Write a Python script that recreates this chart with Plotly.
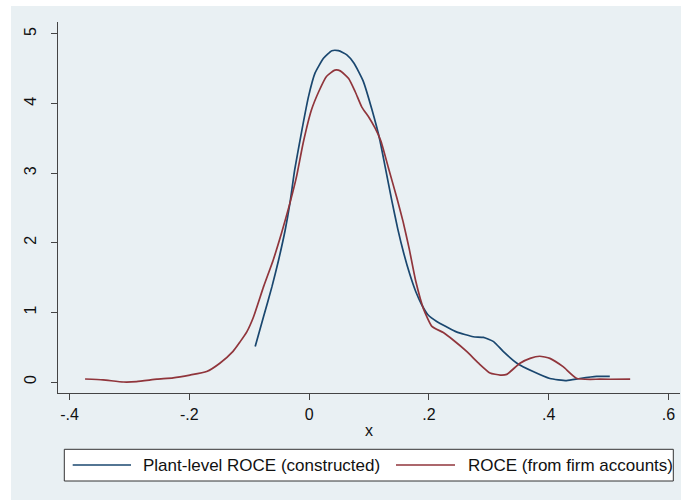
import plotly.graph_objects as go

# Kernel density estimates of ROCE, two measures
plant_x = [-0.090, -0.076, -0.062, -0.051, -0.040, -0.032, -0.024, -0.012, -0.001, 0.010,
           0.024, 0.038, 0.049, 0.063, 0.075, 0.090, 0.105, 0.118, 0.127, 0.138,
           0.148, 0.158, 0.168, 0.178, 0.188, 0.198, 0.213, 0.230, 0.246, 0.274,
           0.291, 0.308, 0.324, 0.347, 0.374, 0.402, 0.430, 0.452, 0.480, 0.502]
plant_y = [0.51, 0.94, 1.37, 1.75, 2.18, 2.57, 3.05, 3.62, 4.10, 4.44,
           4.65, 4.76, 4.76, 4.70, 4.58, 4.33, 3.91, 3.48, 3.09, 2.61,
           2.20, 1.85, 1.55, 1.30, 1.11, 0.97, 0.87, 0.79, 0.72, 0.65,
           0.64, 0.58, 0.44, 0.27, 0.15, 0.05, 0.02, 0.05, 0.08, 0.08]

firm_x = [-0.374, -0.344, -0.310, -0.288, -0.254, -0.227, -0.199, -0.171, -0.149, -0.127,
          -0.115, -0.104, -0.093, -0.076, -0.060, -0.046, -0.032, -0.021, -0.010, 0.004,
          0.016, 0.029, 0.043, 0.052, 0.066, 0.077, 0.088, 0.100, 0.110, 0.120,
          0.132, 0.146, 0.157, 0.167, 0.178, 0.191, 0.205, 0.224, 0.241, 0.263,
          0.283, 0.302, 0.319, 0.330, 0.352, 0.369, 0.385, 0.402, 0.424, 0.447,
          0.486, 0.536]
firm_y = [0.043, 0.03, 0.0, 0.005, 0.04, 0.06, 0.10, 0.15, 0.27, 0.44,
          0.58, 0.72, 0.93, 1.37, 1.75, 2.14, 2.57, 2.95, 3.43, 3.91,
          4.17, 4.39, 4.48, 4.47, 4.36, 4.17, 3.95, 3.80, 3.65, 3.46,
          3.09, 2.66, 2.30, 1.92, 1.45, 1.05, 0.80, 0.71, 0.60, 0.44,
          0.27, 0.13, 0.10, 0.11, 0.27, 0.34, 0.37, 0.34, 0.22, 0.05,
          0.04, 0.04]

series_names = ["Plant-level ROCE (constructed)", "ROCE (from firm accounts)"]
series_colors = ["#1a476f", "#90353b"]

x_tickvals = [-0.4, -0.2, 0, 0.2, 0.4, 0.6]
x_ticktext = ["-.4", "-.2", "0", ".2", ".4", ".6"]
y_tickvals = [0, 1, 2, 3, 4, 5]
y_ticktext = ["0", "1", "2", "3", "4", "5"]

W, H = 681, 500
ML, MR, MT, MB = 58, 1, 22, 107
PW, PH = W - ML - MR, H - MT - MB
FONT = "Liberation Sans, Arial, Helvetica, sans-serif"


def px_x(p):
    return (p - ML) / PW


def px_y(p):
    return (H - MB - p) / PH


fig = go.Figure()
for xs, ys, name, col in zip([plant_x, firm_x], [plant_y, firm_y], series_names, series_colors):
    fig.add_trace(go.Scatter(x=xs, y=ys, mode="lines", name=name,
                             line=dict(color=col, width=1.7, shape="spline", smoothing=0.5),
                             showlegend=False))

shapes = [
    # light graph region behind the plot area
    dict(type="rect", xref="paper", yref="paper", layer="below",
         x0=px_x(11), x1=px_x(W + 2), y0=px_y(H + 2), y1=px_y(6),
         fillcolor="#e9f0f3", line=dict(width=0)),
    # legend frame
    dict(type="rect", xref="paper", yref="paper", layer="above",
         x0=px_x(64.3), x1=px_x(673.3), y0=px_y(481), y1=px_y(449.3),
         fillcolor="white", line=dict(color="#333333", width=1)),
]
annotations = []
legend_line_x = [(72.7, 131), (396, 455)]
legend_text_x = [140.7, 466]
for (a, b), tx, name, col in zip(legend_line_x, legend_text_x, series_names, series_colors):
    shapes.append(dict(type="line", xref="paper", yref="paper", layer="above",
                       x0=px_x(a), x1=px_x(b), y0=px_y(465), y1=px_y(465),
                       line=dict(color=col, width=1.7)))
    annotations.append(dict(text=name, xref="paper", yref="paper", x=px_x(tx), y=px_y(465),
                            xanchor="left", yanchor="middle", showarrow=False,
                            font=dict(family=FONT, size=17, color="#111111")))

fig.update_layout(
    width=W, height=H,
    margin=dict(l=ML, r=MR, t=MT, b=MB, autoexpand=False),
    paper_bgcolor="white", plot_bgcolor="white",
    font=dict(family=FONT, color="#111111"),
    shapes=shapes, annotations=annotations,
    xaxis=dict(range=[-0.4192, 0.6192], tickvals=x_tickvals, ticktext=x_ticktext,
               showgrid=False, zeroline=False, showline=True, linecolor="#444444", linewidth=1,
               ticks="outside", ticklen=6, tickcolor="#444444", tickwidth=1,
               tickfont=dict(size=16), ticklabelstandoff=1,
               title=dict(text="x", font=dict(size=16), standoff=2)),
    yaxis=dict(range=[-0.158, 5.172], tickvals=y_tickvals, ticktext=y_ticktext,
               showgrid=True, gridcolor="#e9f0f3", gridwidth=1, zeroline=False,
               showline=True, linecolor="#444444", linewidth=1,
               ticks="outside", ticklen=6, tickcolor="#444444", tickwidth=1,
               tickfont=dict(size=16), tickangle=-90, ticklabelstandoff=9),
)

fig.write_html("out.html")
